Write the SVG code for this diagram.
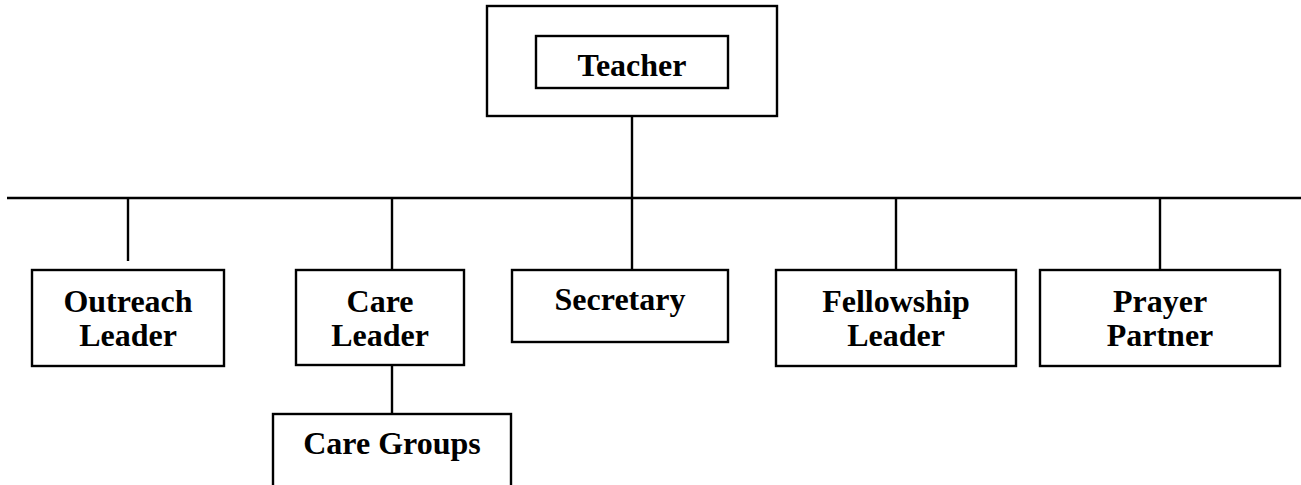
<svg xmlns="http://www.w3.org/2000/svg" width="1301" height="485" viewBox="0 0 1301 485">
<style>
.box{fill:#fff;stroke:#000;stroke-width:2.4}
.ln{stroke:#000;stroke-width:2.4;fill:none}
.t{font-family:"Liberation Serif","Times New Roman",serif;font-weight:bold;font-size:32px;fill:#000;text-anchor:middle}
</style>
<rect width="1301" height="485" fill="#fff"/>
<g id="connectors">
<line class="ln" x1="7" y1="198" x2="1301" y2="198"/>
<line class="ln" x1="632" y1="116" x2="632" y2="270"/>
<line class="ln" x1="128" y1="198" x2="128" y2="261"/>
<line class="ln" x1="392" y1="198" x2="392" y2="270"/>
<line class="ln" x1="896" y1="198" x2="896" y2="270"/>
<line class="ln" x1="1160" y1="198" x2="1160" y2="270"/>
<line class="ln" x1="392" y1="365" x2="392" y2="414"/>
</g>
<g id="teacher-outer"><rect class="box" x="487" y="6" width="290" height="110"/></g>
<g id="teacher"><rect class="box" x="536" y="36" width="192" height="52"/><text class="t" x="632" y="76">Teacher</text></g>
<g id="outreach"><rect class="box" x="32" y="270" width="192" height="96"/><text class="t" x="128" y="312">Outreach</text><text class="t" x="128" y="346">Leader</text></g>
<g id="care-leader"><rect class="box" x="296" y="270" width="168" height="95"/><text class="t" x="380" y="312">Care</text><text class="t" x="380" y="346">Leader</text></g>
<g id="secretary"><rect class="box" x="512" y="270" width="216" height="72"/><text class="t" x="620" y="310">Secretary</text></g>
<g id="fellowship"><rect class="box" x="776" y="270" width="240" height="96"/><text class="t" x="896" y="312">Fellowship</text><text class="t" x="896" y="346">Leader</text></g>
<g id="prayer"><rect class="box" x="1040" y="270" width="240" height="96"/><text class="t" x="1160" y="312">Prayer</text><text class="t" x="1160" y="346">Partner</text></g>
<g id="care-groups"><rect class="box" x="273" y="414" width="238" height="100"/><text class="t" x="392" y="454">Care Groups</text></g>
</svg>
